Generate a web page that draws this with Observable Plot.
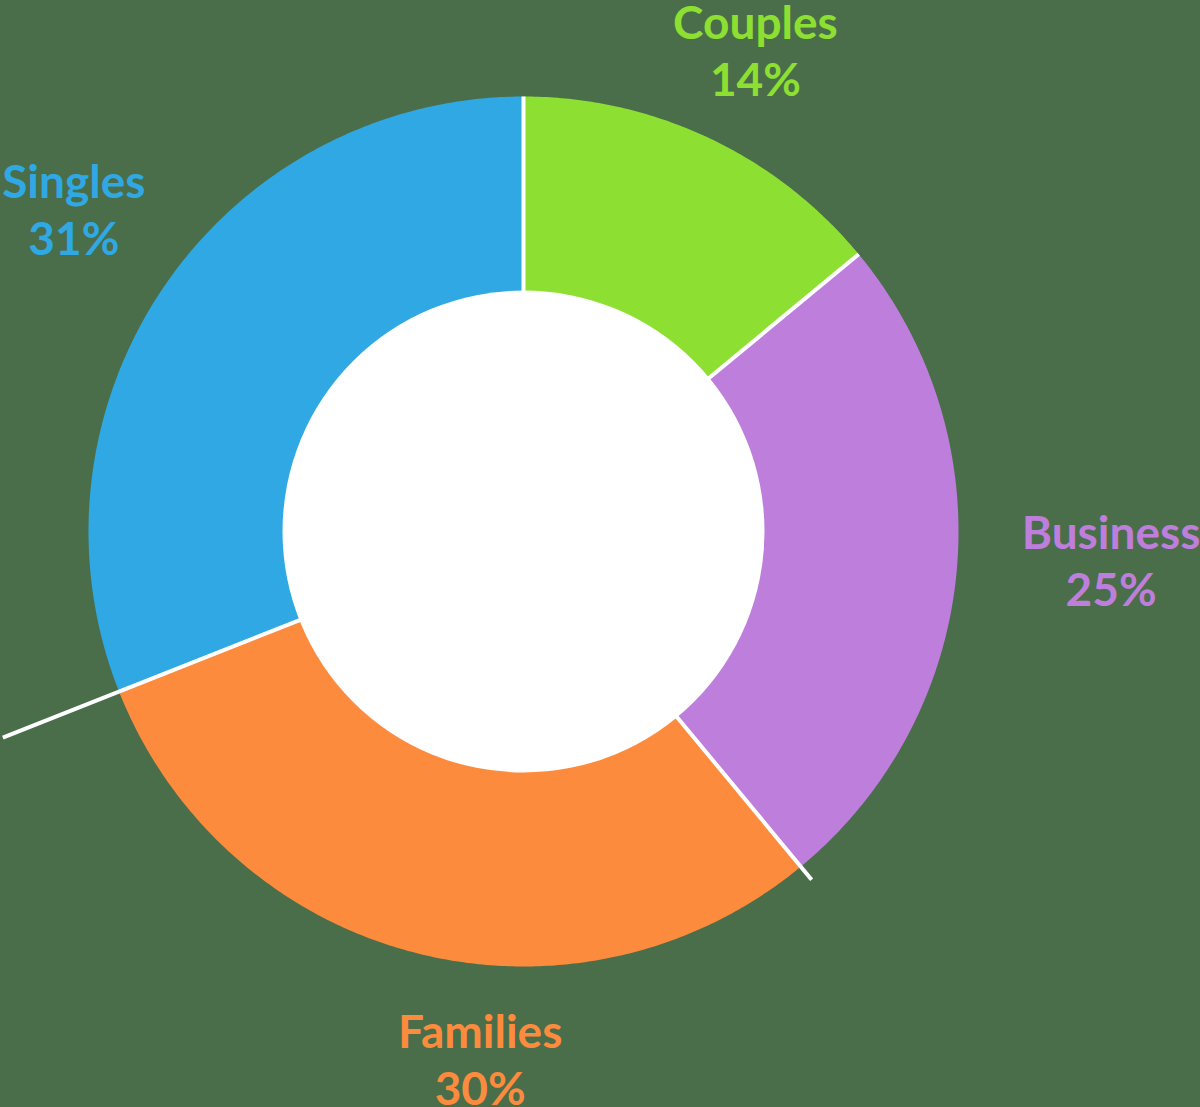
<!DOCTYPE html>
<html><head><meta charset="utf-8">
<script src="https://cdn.jsdelivr.net/npm/d3@7"></script>
<script src="https://cdn.jsdelivr.net/npm/@observablehq/plot@0.6"></script>
<style>html,body{margin:0;padding:0;background:#4a6e4a;overflow:hidden}#chart svg{display:block}</style>
</head><body><div id="chart"></div>
<script>
// ---- data ----
const segments = ["Couples", "Business", "Families", "Singles"];
const shares = [14, 25, 30, 31];
const palette = ["#8de031", "#bd7fdb", "#fc8b3d", "#2fa8e3"];

// ---- layout ----
const W = 1200, H = 1107, cx = 523, cy = 531;
const rOuter = 435, rInner = 240;
const total = d3.sum(shares);
const rad = d => d * Math.PI / 180;

let acc = 0;
const slices = segments.map((name, i) => {
  const a0 = acc / total * 360; acc += shares[i];
  const a1 = acc / total * 360;
  return {name, share: shares[i], a0, a1, mid: (a0 + a1) / 2};
});

// ring polygons
const pts = [];
for (const s of slices) {
  const n = Math.max(2, Math.ceil((s.a1 - s.a0) / 0.5));
  for (let k = 0; k <= n; k++) {
    const a = rad(s.a0 + (s.a1 - s.a0) * k / n);
    pts.push({name: s.name, x: rOuter * Math.sin(a), y: rOuter * Math.cos(a)});
  }
  for (let k = n; k >= 0; k--) {
    const a = rad(s.a0 + (s.a1 - s.a0) * k / n);
    pts.push({name: s.name, x: rInner * Math.sin(a), y: rInner * Math.cos(a)});
  }
}

// separators (some extend past the ring, as in the original)
const extend = {Families: 452, Singles: 560};
const seps = slices.map(s => {
  const a = rad(s.a0);
  const prevName = s.name;
  const r2 = extend[prevName] || rOuter;
  return {x1: rInner * Math.sin(a), y1: rInner * Math.cos(a), x2: r2 * Math.sin(a), y2: r2 * Math.cos(a)};
});

// labels
const nudge = {Couples: [2, 6], Business: [50, -23], Families: [91, 4], Singles: [-3, -20]};
const labelR = 540;
const labels = slices.map(s => {
  const a = rad(s.mid);
  const [dx, dy] = nudge[s.name];
  return {name: s.name, text: `${s.name}\n${s.share}%`,
    x: labelR * Math.sin(a) + dx, y: labelR * Math.cos(a) - dy};
});

const chart = Plot.plot({
  width: W, height: H,
  margin: 0,
  style: {background: "#4a6e4a", overflow: "visible"},
  x: {domain: [-cx, W - cx], axis: null},
  y: {domain: [cy - H, cy], axis: null},
  color: {domain: segments, range: palette},
  marks: [
    Plot.line(pts, {x: "x", y: "y", z: "name", fill: "name", stroke: "none", curve: "linear-closed"}),
    Plot.dot([{x: 0, y: 0}], {x: "x", y: "y", r: rInner + 1, fill: "white", stroke: "none"}),
    Plot.link(seps, {x1: "x1", y1: "y1", x2: "x2", y2: "y2", stroke: "white", strokeWidth: 4}),
    Plot.text(labels, {x: "x", y: "y", text: "text", fill: "name", fontSize: 46, fontWeight: "bold",
      fontFamily: "Lato", lineHeight: 1.24, textAnchor: "middle", lineAnchor: "middle"})
  ]
});
document.getElementById("chart").appendChild(chart);
</script>
</body></html>
